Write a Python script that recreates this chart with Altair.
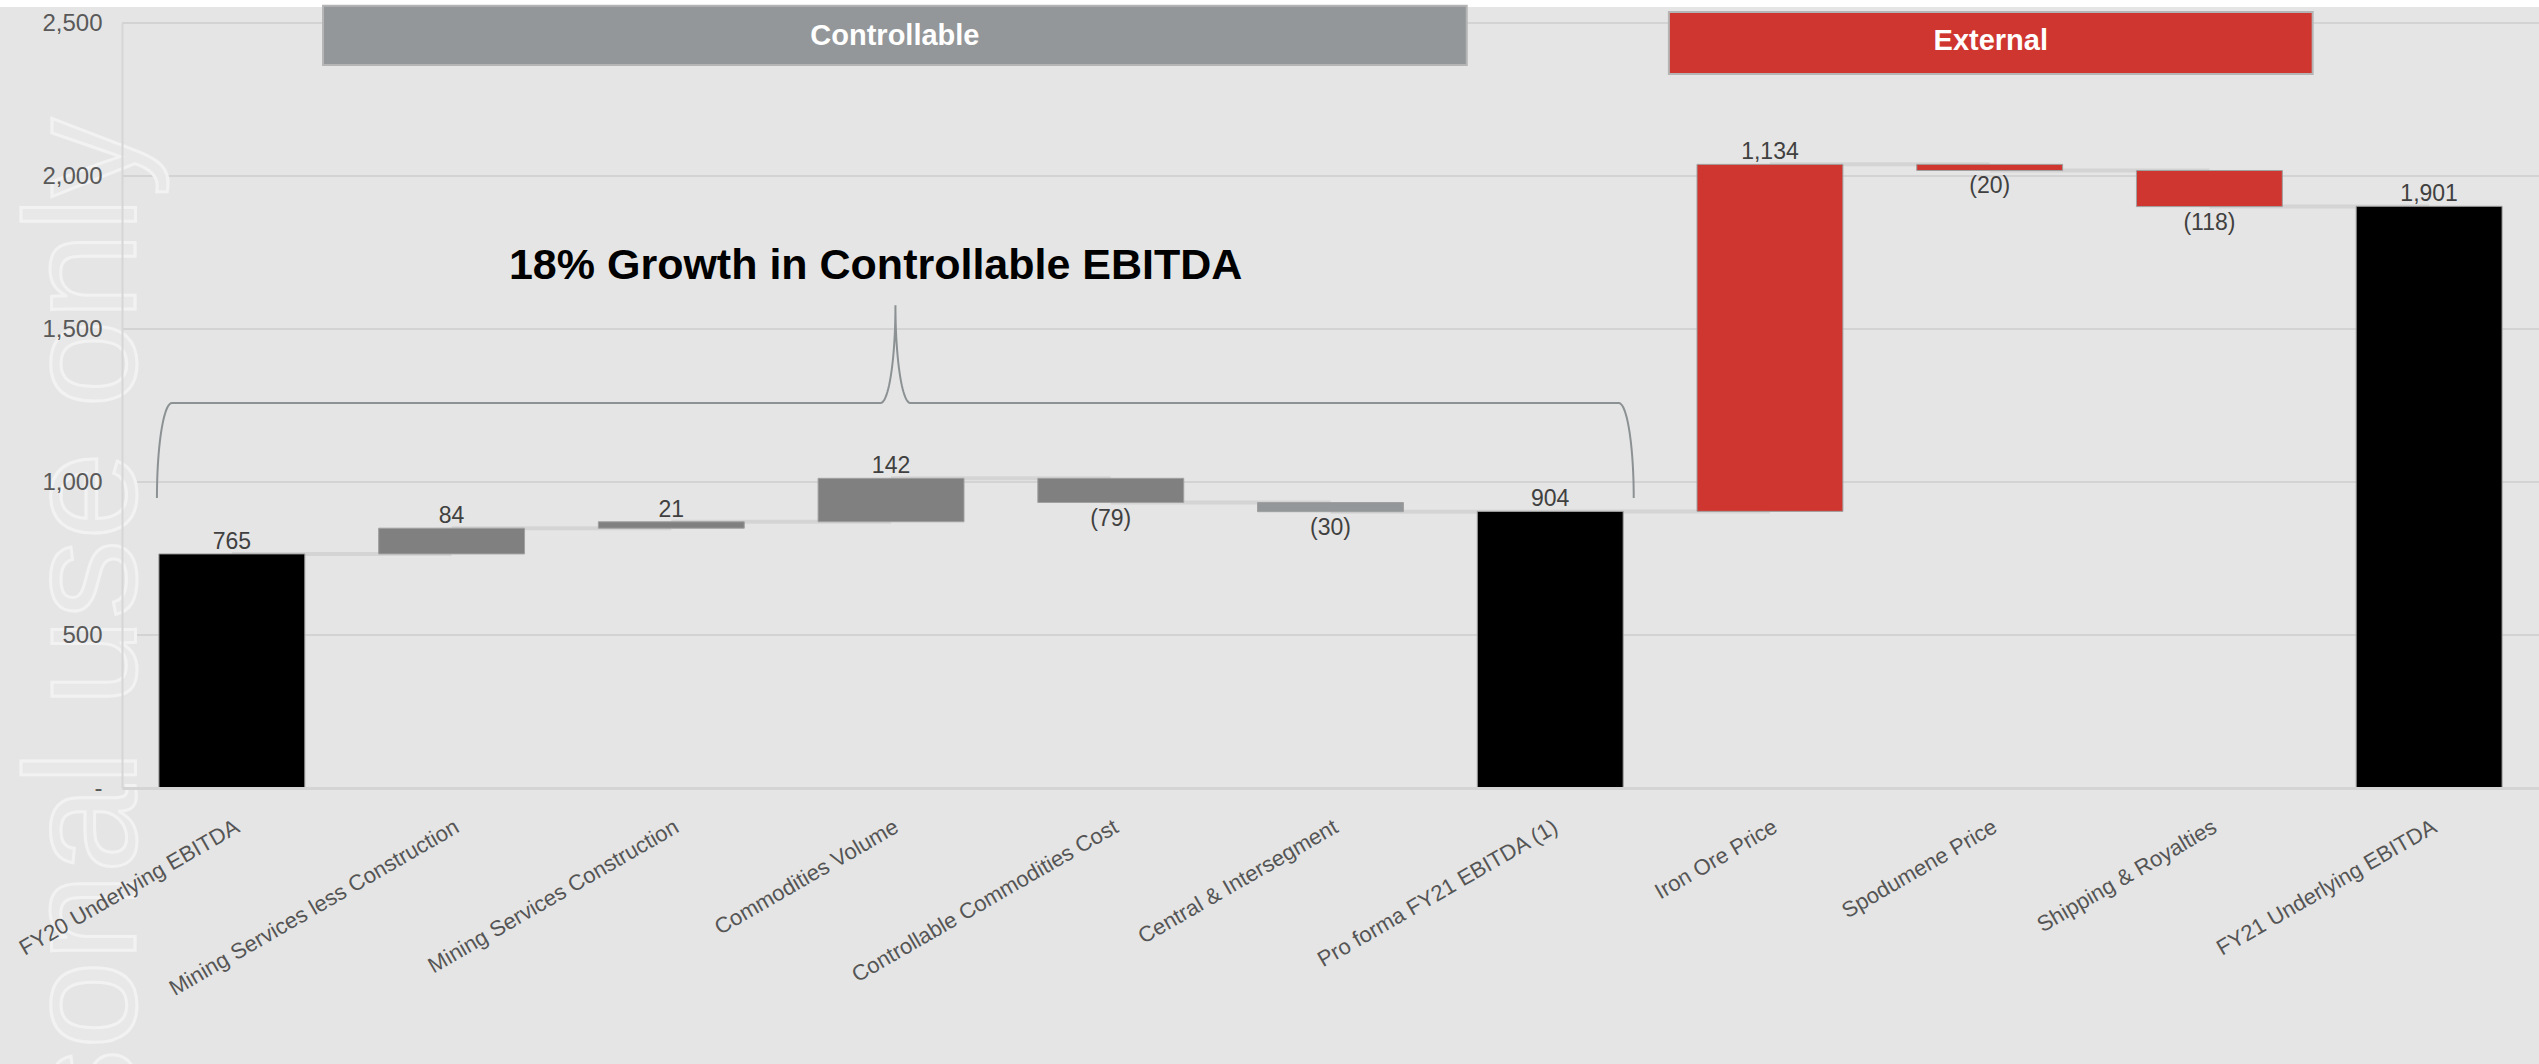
import json
import altair as alt
import pandas as pd
import numpy as np

# ---------------- data ----------------
categories = [
    "FY20 Underlying EBITDA",
    "Mining Services less Construction",
    "Mining Services Construction",
    "Commodities Volume",
    "Controllable Commodities Cost",
    "Central & Intersegment",
    "Pro forma FY21 EBITDA (1)",
    "Iron Ore Price",
    "Spodumene Price",
    "Shipping & Royalties",
    "FY21 Underlying EBITDA",
]
values = [765, 84, 21, 142, -79, -30, 904, 1134, -20, -118, 1901]
kinds = ["total", "controllable", "controllable", "controllable", "controllable",
         "central", "total", "external", "external", "external", "total"]
y_ticks = [0, 500, 1000, 1500, 2000, 2500]

headers = ["Controllable", "External"]
growth_note = "18% Growth in Controllable EBITDA"
watermark = "For personal use only"

# ---------------- layout / style ----------------
W, H = 2417, 765
FONT = "Liberation Sans"
N = len(categories)
BAR_HALF = 0.332          # half bar width, in category slots
YDOM = [0, 2500]
kind_domain = ["total", "controllable", "central", "external"]
kind_range = ["#000000", "#808080", "#939799", "#cf3630"]

# header boxes (category-slot units on x, value units on y)
header_x0 = [0.915, 7.04]
header_x1 = [6.12, 9.97]
header_ytop = [2556, 2536]
header_ybot = [2363, 2333]
header_ytext = [2428, 2412]
header_fill = ["#939799", "#cf3630"]

# brace geometry
br_x0, br_x1, br_mid, br_rx = 0.159, 6.88, 3.52, 0.068
br_y_end, br_y_bar, br_y_tip = 948, 1258, 1578
note_x, note_y = 3.43, 1663

# ---------------- derived tables ----------------
starts, ends = [], []
running = 0
for v, k in zip(values, kinds):
    if k == "total":
        s, e = 0, v
    else:
        s, e = running, running + v
    running = e
    starts.append(s)
    ends.append(e)

slot = np.arange(N) + 0.5
df = pd.DataFrame({
    "cat": categories,
    "xc": slot,
    "x0": slot - BAR_HALF,
    "x1": slot + BAR_HALF,
    "value": values,
    "kind": kinds,
    "lo": [min(s, e) for s, e in zip(starts, ends)],
    "hi": [max(s, e) for s, e in zip(starts, ends)],
    "label": [f"({abs(v):,})" if v < 0 else f"{v:,}" for v in values],
})

conn = pd.DataFrame({
    "p0": slot[:-1],
    "p1": slot[1:],
    "level": ends[:-1],
})

hdr = pd.DataFrame({
    "name": headers, "x0": header_x0, "x1": header_x1,
    "yt": header_ytop, "yb": header_ybot, "ytext": header_ytext,
    "xc": [(a + b) / 2 for a, b in zip(header_x0, header_x1)],
})

t = np.linspace(0, np.pi / 2, 24)
bx = np.concatenate([
    (br_x0 + br_rx) - br_rx * np.cos(t),
    (br_mid - br_rx) + br_rx * np.sin(t),
    (br_mid + br_rx) - br_rx * np.cos(t),
    (br_x1 - br_rx) + br_rx * np.sin(t),
])
by = np.concatenate([
    br_y_end + (br_y_bar - br_y_end) * np.sin(t),
    br_y_tip - (br_y_tip - br_y_bar) * np.cos(t),
    br_y_tip - (br_y_tip - br_y_bar) * np.sin(t),
    br_y_end + (br_y_bar - br_y_end) * np.cos(t),
])
brace = pd.DataFrame({"x": bx, "y": by, "o": np.arange(len(bx))})

# ---------------- scales / axes ----------------
yscale = alt.Scale(domain=YDOM, nice=False, zero=True)
xscale = alt.Scale(domain=[0, N], nice=False, zero=False)

x_axis = alt.Axis(
    title=None, values=[float(v) for v in slot],
    labelExpr=f"{json.dumps(categories)}[floor(datum.value)]",
    labelAngle=-30, labelAlign="right", labelBaseline="top",
    labelPadding=28, labelFontSize=22, labelFont=FONT, labelColor="#555555",
    labelLimit=500, labelOverlap=False, labelFlush=False,
    ticks=False, tickSize=0, domain=True,
    domainColor="#d4d4d4", domainWidth=3, grid=False, zindex=1,
)
y_axis = alt.Axis(
    title=None, values=y_ticks, grid=False, ticks=False, tickSize=0,
    labelFontSize=24, labelFont=FONT, labelColor="#595959", labelPadding=20,
    labelExpr="datum.value == 0 ? '-' : format(datum.value, ',')",
    labelOverlap=False, labelFlush=False,
    domain=True, domainColor="#d6d6d6", domainWidth=2, zindex=1,
)

def X(field):
    return alt.X(field, type="quantitative", scale=xscale)

def Y(field):
    return alt.Y(field, type="quantitative", scale=yscale)

# ---------------- layers ----------------
strip = alt.Chart(pd.DataFrame({"a": [0]})).mark_rect(color="#ffffff").encode(
    x=alt.value(-122), x2=alt.value(W), y=alt.value(-23), y2=alt.value(-16)
)

grid = alt.Chart(pd.DataFrame({"v": y_ticks[1:]})).mark_rule(
    color="#d3d3d3", strokeWidth=2
).encode(y=Y("v"), x=alt.value(0), x2=alt.value(W))

wm = alt.Chart(pd.DataFrame({"t": [watermark]})).mark_text(
    angle=270, align="right", baseline="alphabetic", fontSize=158, font=FONT,
    fill="#e8e8e8", stroke="#f2f2f2", strokeWidth=3,
).encode(text="t:N", x=alt.value(13), y=alt.value(95))

connectors = alt.Chart(conn).mark_rule(color="#d4d4d4", strokeWidth=4).encode(
    x=X("p0"), x2="p1:Q", y=Y("level"),
)

bars = alt.Chart(df).mark_rect(stroke="#a0a0a0", strokeWidth=1).encode(
    x=alt.X("x0:Q", scale=xscale, axis=x_axis),
    x2="x1:Q",
    y=alt.Y("hi:Q", scale=yscale, axis=y_axis),
    y2="lo:Q",
    color=alt.Color("kind:N", scale=alt.Scale(domain=kind_domain, range=kind_range), legend=None),
)

pos_labels = alt.Chart(df).transform_filter("datum.value >= 0").mark_text(
    baseline="alphabetic", dy=-5, fontSize=23, font=FONT, color="#404040"
).encode(x=X("xc"), y=Y("hi"), text="label:N")

neg_labels = alt.Chart(df).transform_filter("datum.value < 0").mark_text(
    baseline="top", dy=5, fontSize=23, font=FONT, color="#404040"
).encode(x=X("xc"), y=Y("lo"), text="label:N")

hdr_rect = alt.Chart(hdr).mark_rect(stroke="#b5b5b5", strokeWidth=2).encode(
    x=X("x0"), x2="x1:Q", y=Y("yt"), y2="yb:Q",
    fill=alt.Fill("name:N", scale=alt.Scale(domain=headers, range=header_fill), legend=None),
)
hdr_text = alt.Chart(hdr).mark_text(
    baseline="alphabetic", align="center", fontSize=29, fontWeight="bold",
    font=FONT, color="#ffffff",
).encode(x=X("xc"), y=Y("ytext"), text="name:N")

brace_line = alt.Chart(brace).mark_line(color="#8c9193", strokeWidth=2).encode(
    x=X("x"), y=Y("y"), order="o:Q",
)
note = alt.Chart(pd.DataFrame({"t": [growth_note], "x": [note_x], "y": [note_y]})).mark_text(
    baseline="alphabetic", align="center", fontSize=43, fontWeight="bold",
    font=FONT, color="#000000",
).encode(x=X("x"), y=Y("y"), text="t:N")

chart = alt.layer(
    strip, grid, wm, connectors, bars, pos_labels, neg_labels,
    hdr_rect, hdr_text, brace_line, note,
).resolve_scale(color="independent").properties(
    width=W, height=H,
    padding={"left": 122, "top": 23, "right": 0, "bottom": 276},
    autosize=alt.AutoSizeParams(type="none"),
    background="#e5e5e5",
).configure_view(stroke=None)

chart.save("out.html", embed_options={"renderer": "svg", "actions": False})
